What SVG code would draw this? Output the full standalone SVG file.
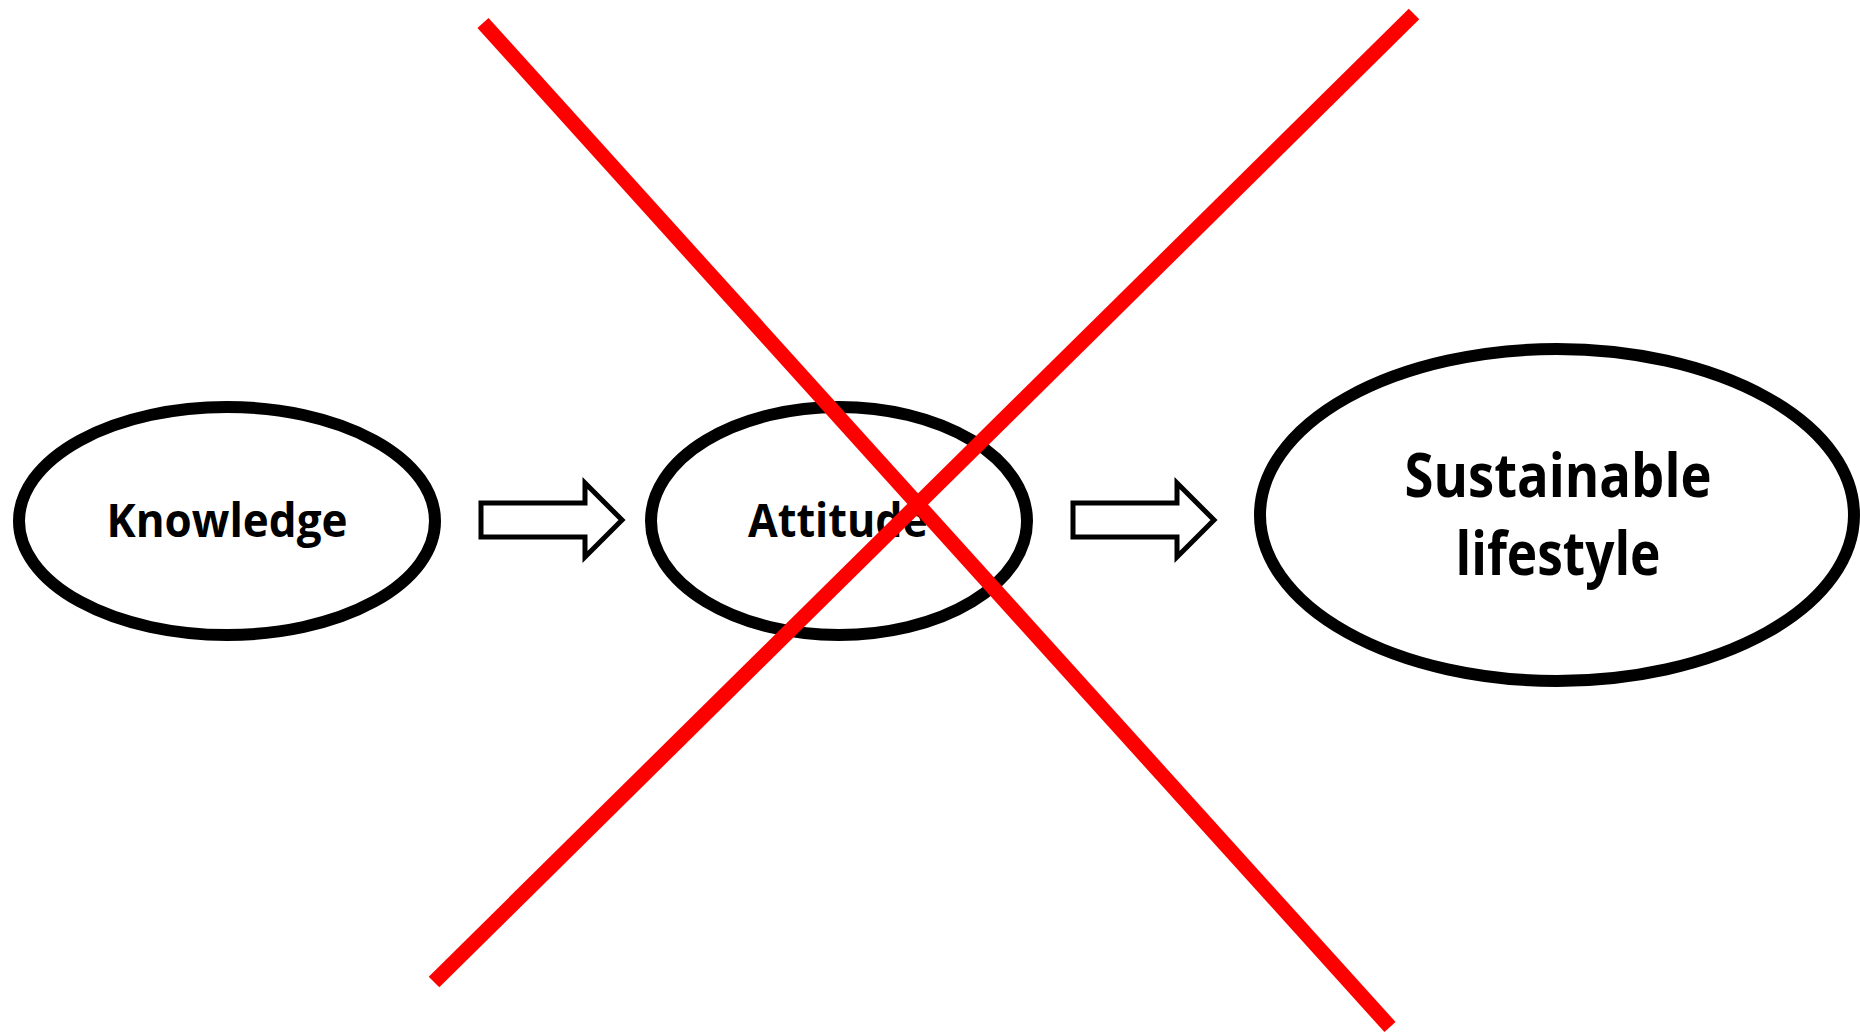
<svg xmlns="http://www.w3.org/2000/svg" width="1860" height="1032" viewBox="0 0 1860 1032">
<style>
.node{fill:#fff;stroke:#000;stroke-width:12}
.lbl{font-family:"Open Sans","Liberation Sans",sans-serif;font-weight:700;fill:#000;text-anchor:middle}
.arrow{fill:#fff;stroke:#000;stroke-width:5;stroke-linejoin:miter}
.cross{stroke:#ff0000;stroke-width:15;stroke-linecap:butt;fill:none}
</style>
<rect width="1860" height="1032" fill="#fff"/>
<g id="knowledge">
<ellipse class="node" cx="227" cy="521" rx="208" ry="114"/>
<text class="lbl" x="227" y="537" font-size="47" textLength="241" lengthAdjust="spacingAndGlyphs">Knowledge</text>
</g>
<g id="attitude">
<ellipse class="node" cx="839" cy="521" rx="188" ry="114"/>
<text class="lbl" x="838" y="537" font-size="47" textLength="180" lengthAdjust="spacingAndGlyphs">Attitude</text>
</g>
<g id="sustainable-lifestyle">
<ellipse class="node" cx="1557" cy="515" rx="297" ry="166"/>
<text class="lbl" x="1558" y="497" font-size="60" textLength="307" lengthAdjust="spacingAndGlyphs">Sustainable</text>
<text class="lbl" x="1558" y="575" font-size="60" textLength="205" lengthAdjust="spacingAndGlyphs">lifestyle</text>
</g>
<g id="connectors">
<polygon class="arrow" points="481,503 585,503 585,483 622,520 585,557 585,537 481,537"/>
<polygon class="arrow" points="1073,503 1177,503 1177,483 1214,520 1177,557 1177,537 1073,537"/>
</g>
<g id="cross">
<line class="cross" x1="483" y1="23" x2="1390" y2="1027"/>
<line class="cross" x1="1414" y1="14" x2="434" y2="982"/>
</g>
</svg>
